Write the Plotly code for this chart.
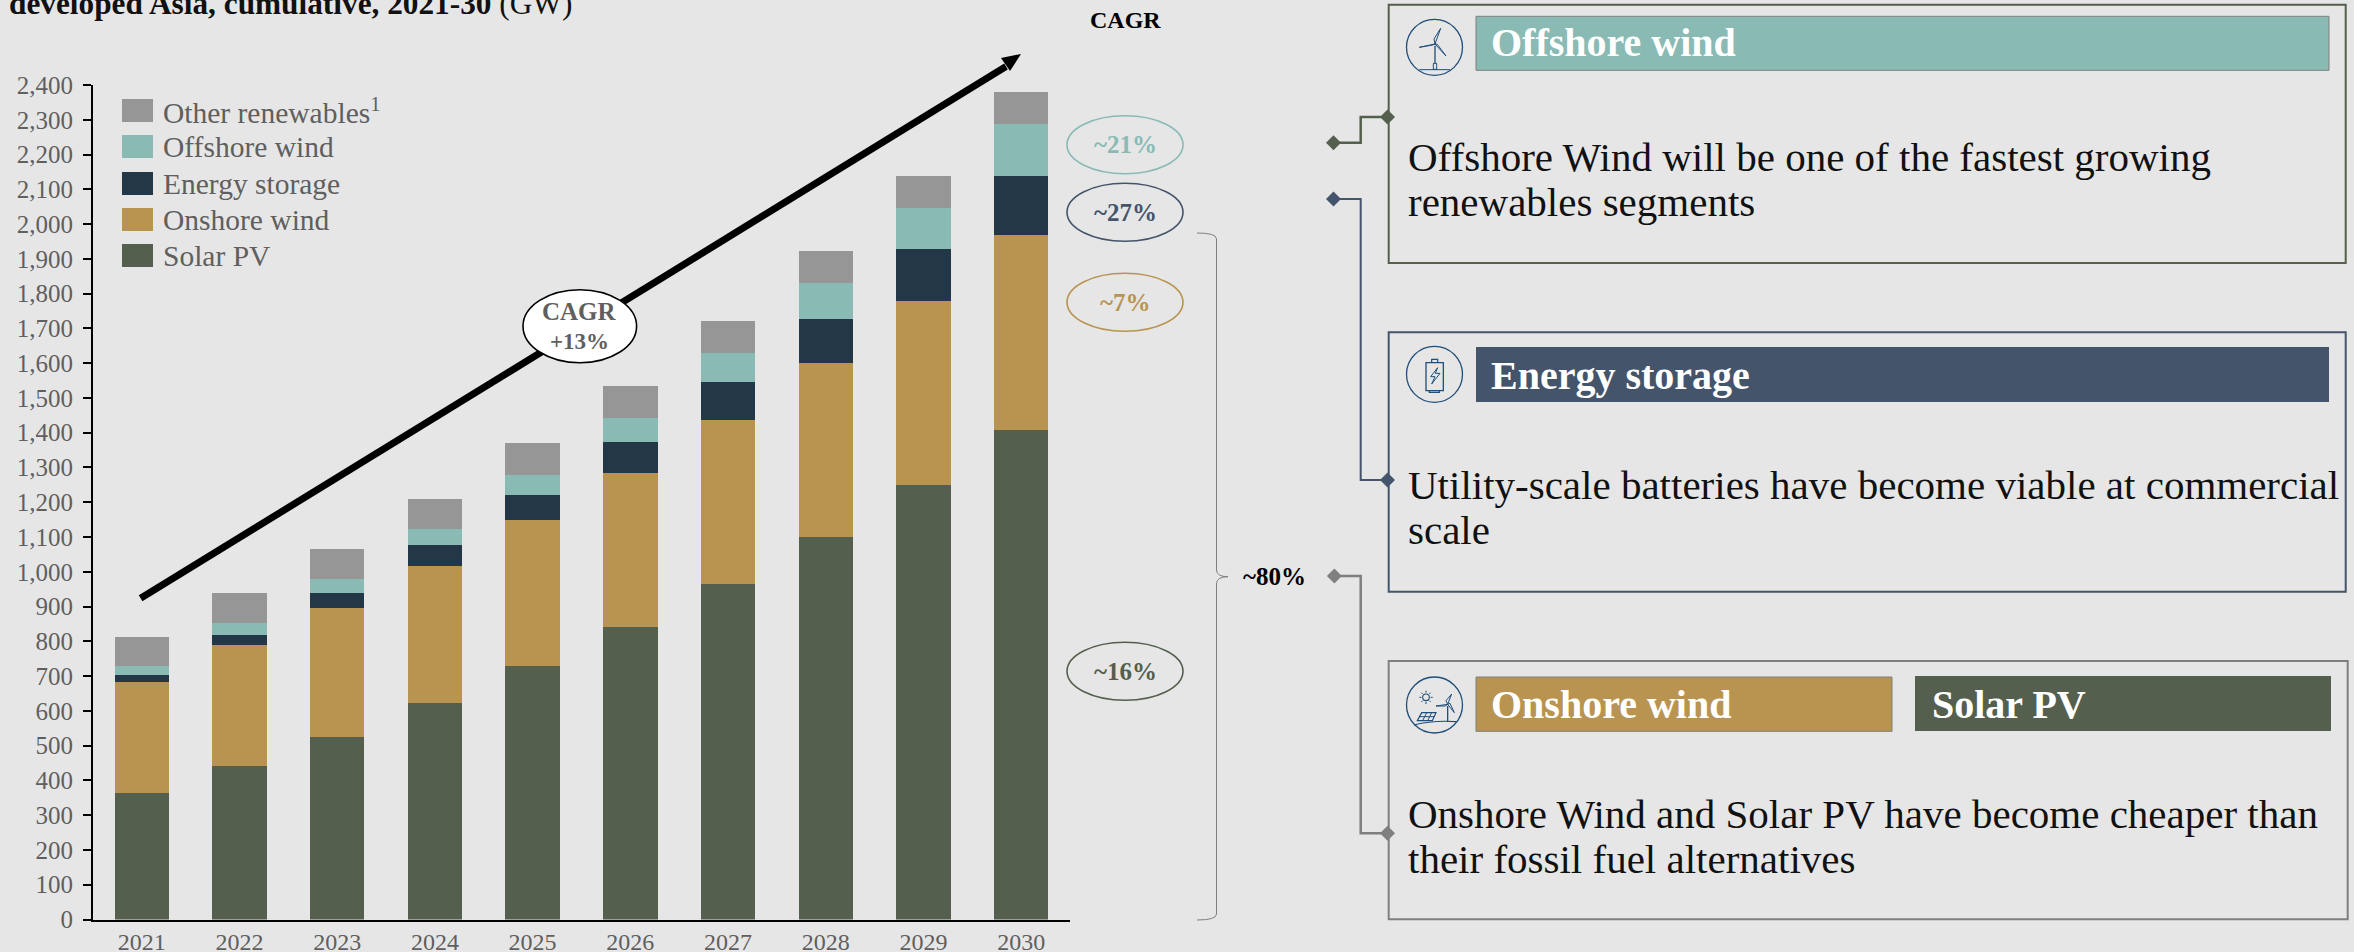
import plotly.graph_objects as go

years = ["2021", "2022", "2023", "2024", "2025", "2026", "2027", "2028", "2029", "2030"]
solar_pv = [364, 442, 525, 623, 730, 841, 966, 1101, 1249, 1409]
onshore_wind = [319, 348, 372, 394, 419, 442, 471, 499, 530, 561]
energy_storage = [20, 29, 42, 59, 73, 90, 108, 128, 149, 169]
offshore_wind = [26, 33, 41, 46, 56, 69, 84, 102, 117, 148]
other_renewables = [83, 86, 87, 86, 91, 91, 91, 92, 94, 94]
y_ticks = list(range(0, 2500, 100))

W, H = 2354, 952
BG = "#E6E6E6"
OLIVE, GOLD, NAVY, TEAL, GREY = "#555F4D", "#B89450", "#243746", "#8ABAB4", "#969696"
SLATE = "#44546A"
MID = "#7F7F7F"
ICON = "#1F4E79"
TXT = "#5F5F5F"
SERIF = "Liberation Serif"


def X(p):
    return p / W


def Y(p):
    return 1 - p / H


shapes = []
annos = []


def rect(x0, y0, x1, y1, fill=None, line=None, lw=1.5):
    shapes.append(dict(type="rect", xref="paper", yref="paper", x0=X(x0), y0=Y(y0), x1=X(x1), y1=Y(y1),
                       fillcolor=fill or "rgba(0,0,0,0)",
                       line=dict(color=line or "rgba(0,0,0,0)", width=lw if line else 0)))


def ellipse(x0, y0, x1, y1, line, lw=1.5, fill=None):
    shapes.append(dict(type="circle", xref="paper", yref="paper", x0=X(x0), y0=Y(y0), x1=X(x1), y1=Y(y1),
                       fillcolor=fill or "rgba(0,0,0,0)", line=dict(color=line, width=lw)))


def path(cmds, line=None, lw=1.5, fill=None):
    """cmds: list of (letter, x, y, ...) tuples in pixels"""
    parts = []
    for c in cmds:
        if c[0] == "Z":
            parts.append("Z")
            continue
        nums = c[1:]
        pts = []
        for i in range(0, len(nums), 2):
            pts.append(f"{X(nums[i]):.6f},{Y(nums[i + 1]):.6f}")
        parts.append(c[0] + " ".join(pts))
    shapes.append(dict(type="path", xref="paper", yref="paper", path=" ".join(parts),
                       fillcolor=fill or "rgba(0,0,0,0)",
                       line=dict(color=line or "rgba(0,0,0,0)", width=lw if line else 0)))


def text(x, y, s, size=24, color=TXT, bold=False, anchor="left"):
    annos.append(dict(xref="paper", yref="paper", x=X(x), y=Y(y), text=f"<b>{s}</b>" if bold else s,
                      showarrow=False, xanchor=anchor, yanchor="middle", borderpad=0, borderwidth=0,
                      font=dict(family=SERIF, size=size, color=color)))


def diamond(x, y, color, r=7.5):
    path([("M", x - r, y), ("L", x, y - r), ("L", x + r, y), ("L", x, y + r), ("Z",)], fill=color)


# growth arrow
path([("M", 140.6, 598.3), ("L", 1006, 66.5)], line="#000000", lw=7)
path([("M", 1021, 54), ("L", 1001, 58), ("L", 1010, 71), ("Z",)], fill="#000000")
ellipse(523, 289.7, 636.6, 362.7, "#000000", 1.6, "#FFFFFF")
text(579.5, 312, "CAGR", 25, TXT, True, "center")
text(579.5, 341, "+13%", 23, TXT, True, "center")

# legend
legend_rows = [("Other renewables<sup>1</sup>", GREY, 99), ("Offshore wind", TEAL, 135),
               ("Energy storage", NAVY, 172), ("Onshore wind", GOLD, 208), ("Solar PV", OLIVE, 244)]
for label, col, top in legend_rows:
    rect(122, top, 153, top + 23, fill=col)
    text(163, top + 12, label, 29.5, TXT)

# title (cropped at the top edge)
annos.append(dict(xref="paper", yref="paper", x=X(9), y=Y(4), xanchor="left", yanchor="middle",
                  showarrow=False, borderpad=0, borderwidth=0,
                  text="<b>developed Asia, cumulative, 2021-30</b> (GW)",
                  font=dict(family=SERIF, size=31.3, color="#111111")))

# CAGR column
text(1125.5, 20, "CAGR", 24, "#000000", True, "center")
for label, col, top in [("~21%", TEAL, 115.7), ("~27%", SLATE, 183.3), ("~7%", GOLD, 273.3), ("~16%", OLIVE, 642.3)]:
    ellipse(1067, top, 1183, top + 58, col, 1.6)
    text(1125, top + 29, label, 25, col, True, "center")

# brace
path([("M", 1197, 233), ("Q", 1216.5, 233, 1216.5, 239), ("L", 1216.5, 570), ("Q", 1216.5, 576.7, 1228, 576.7),
      ("Q", 1216.5, 576.7, 1216.5, 584), ("L", 1216.5, 914), ("Q", 1216.5, 920, 1197, 920)], line=MID, lw=1)
text(1274.5, 576.7, "~80%", 25, "#000000", True, "center")

# boxes
rect(1388.7, 4.7, 2345.7, 263, line=OLIVE, lw=2)
rect(1388.7, 332.3, 2345.7, 591.7, line=SLATE, lw=2)
rect(1388.7, 661, 2347.7, 919.3, line=MID, lw=2)

# connectors
path([("M", 1333.5, 142.7), ("L", 1360.7, 142.7), ("L", 1360.7, 117), ("L", 1387.5, 117)], line=OLIVE, lw=2.5)
diamond(1333.5, 142.7, OLIVE)
diamond(1387.5, 117, OLIVE)
path([("M", 1333.5, 199), ("L", 1360.7, 199), ("L", 1360.7, 480), ("L", 1387.5, 480)], line=SLATE, lw=2)
diamond(1333.5, 199, SLATE)
diamond(1387.5, 480, SLATE)
path([("M", 1334.4, 576), ("L", 1360.7, 576), ("L", 1360.7, 833.3), ("L", 1387.5, 833.3)], line=MID, lw=2.5)
diamond(1334.4, 576, MID)
diamond(1387.5, 833.3, MID)

# header bars
rect(1476, 16.3, 2329, 70.3, fill=TEAL, line="#7F7F7F", lw=1)
rect(1476, 347, 2329, 402, fill=SLATE)
rect(1476, 677, 1892, 731.3, fill=GOLD, line="#7F7F7F", lw=1)
rect(1915, 676, 2331, 731, fill=OLIVE)
HS = 40
text(1491.5, 43, "Offshore wind", HS, "#FFFFFF", True)
text(1491.5, 376, "Energy storage", HS, "#FFFFFF", True)
text(1491.5, 704, "Onshore wind", HS, "#FFFFFF", True)
text(1931.7, 704, "Solar PV", HS, "#FFFFFF", True)

# body text
BS = 41
text(1408, 157, "Offshore Wind will be one of the fastest growing", BS, "#111111")
text(1408, 202, "renewables segments", BS, "#111111")
text(1408, 485, "Utility-scale batteries have become viable at commercial", BS, "#111111")
text(1408, 530, "scale", BS, "#111111")
text(1408, 814, "Onshore Wind and Solar PV have become cheaper than", BS, "#111111")
text(1408, 859, "their fossil fuel alternatives", BS, "#111111")


# icons: coordinates in 1/3 px relative to the crop origin
def icon_pts(ox, oy):
    return lambda cmds: [(c[0],) + tuple((ox + v / 3) if i % 2 == 0 else (oy + v / 3) for i, v in enumerate(c[1:]))
                         for c in cmds]


ellipse(1406.5, 19.3, 1462.5, 75.3, ICON, 1.3)
t = icon_pts(1400, 15)
path(t([("M", 105, 87), ("L", 122, 40), ("L", 102, 72), ("Z",)]), line=ICON, lw=1)
path(t([("M", 105, 87), ("L", 58, 97), ("L", 98, 90), ("Z",)]), line=ICON, lw=1)
path(t([("M", 105, 87), ("L", 138, 123), ("L", 112, 88), ("Z",)]), line=ICON, lw=1)
path(t([("M", 105, 92), ("L", 105, 145)]), line=ICON, lw=1.3)
path(t([("M", 100, 145), ("L", 110, 145), ("L", 110, 163), ("L", 100, 163), ("Z",)]), line=ICON, lw=1)
path(t([("M", 58, 164), ("L", 150, 164)]), line=ICON, lw=1)

ellipse(1406.5, 346.3, 1462.5, 402.3, ICON, 1.3)
t = icon_pts(1400, 340)
path(t([("M", 78, 68), ("L", 130, 68), ("L", 130, 152), ("L", 78, 152), ("Z",)]), line=ICON, lw=1.3)
path(t([("M", 95, 68), ("L", 95, 58), ("L", 113, 58), ("L", 113, 68)]), line=ICON, lw=1.2)
path(t([("M", 88, 152), ("L", 88, 157), ("L", 118, 157), ("L", 118, 152)]), line=ICON, lw=1.2)
path(t([("M", 113, 83), ("L", 92, 110), ("L", 105, 110), ("L", 95, 132), ("L", 120, 100), ("L", 106, 100), ("Z",)]),
     line=ICON, lw=1)

ellipse(1406.5, 677, 1462.5, 733, ICON, 1.3)
t = icon_pts(1400, 670)
ellipse(1400 + 68 / 3, 670 + 72 / 3, 1400 + 88 / 3, 670 + 92 / 3, ICON, 1.1)
for a, b, c, d in [(78, 62, 78, 68), (78, 96, 78, 102), (58, 82, 64, 82), (92, 82, 98, 82),
                   (64, 68, 68, 72), (92, 68, 88, 72), (64, 96, 68, 92), (92, 96, 88, 92)]:
    path(t([("M", a, b), ("L", c, d)]), line=ICON, lw=1)
path(t([("M", 143, 103), ("L", 155, 72), ("L", 138, 92), ("Z",)]), line=ICON, lw=1)
path(t([("M", 143, 103), ("L", 108, 108), ("L", 136, 108), ("Z",)]), line=ICON, lw=1)
path(t([("M", 143, 103), ("L", 163, 128), ("L", 150, 100), ("Z",)]), line=ICON, lw=1)
path(t([("M", 143, 108), ("L", 143, 155)]), line=ICON, lw=1.3)
path(t([("M", 65, 128), ("L", 108, 128), ("L", 97, 152), ("L", 52, 152), ("Z",)]), line=ICON, lw=1.2)
path(t([("M", 58, 140), ("L", 103, 140), ("M", 80, 128), ("L", 68, 152), ("M", 95, 128), ("L", 83, 152)]), line=ICON, lw=1)
path(t([("M", 42, 165), ("Q", 100, 150, 168, 155)]), line=ICON, lw=1.2)

series = [("Solar PV", solar_pv, OLIVE), ("Onshore wind", onshore_wind, GOLD), ("Energy storage", energy_storage, NAVY),
          ("Offshore wind", offshore_wind, TEAL), ("Other renewables", other_renewables, GREY)]

fig = go.Figure()
for name, vals, col in series:
    fig.add_trace(go.Bar(x=years, y=vals, name=name, marker=dict(color=col, line=dict(width=0)), width=0.557,
                         showlegend=False))

fig.update_layout(
    width=W, height=H, autosize=False, margin=dict(l=0, r=0, t=0, b=0), barmode="stack",
    paper_bgcolor=BG, plot_bgcolor=BG, font=dict(family=SERIF, size=24, color=TXT),
    shapes=shapes, annotations=annos,
    xaxis=dict(domain=[X(92.9), X(1070)], type="category", range=[-0.5, 9.5], showgrid=False, ticks="",
               automargin=False, showline=True, linecolor="#000000", linewidth=2.2, ticklabelstandoff=0, tickangle=0,
               zeroline=False, tickfont=dict(family=SERIF, size=24, color=TXT)),
    yaxis=dict(domain=[Y(919.5), Y(85)], range=[0, 2400], tickvals=y_ticks, tickformat=",", showgrid=False,
               automargin=False, ticks="outside", ticklen=8, tickwidth=2, tickcolor="#000000", showline=True,
               linecolor="#000000", linewidth=2, ticklabelstandoff=5, zeroline=False,
               tickfont=dict(family=SERIF, size=25, color=TXT)),
)

fig.write_html("out.html", config=dict(displayModeBar=False),
               post_script="document.body.style.margin='0';document.documentElement.style.overflow='hidden';")
